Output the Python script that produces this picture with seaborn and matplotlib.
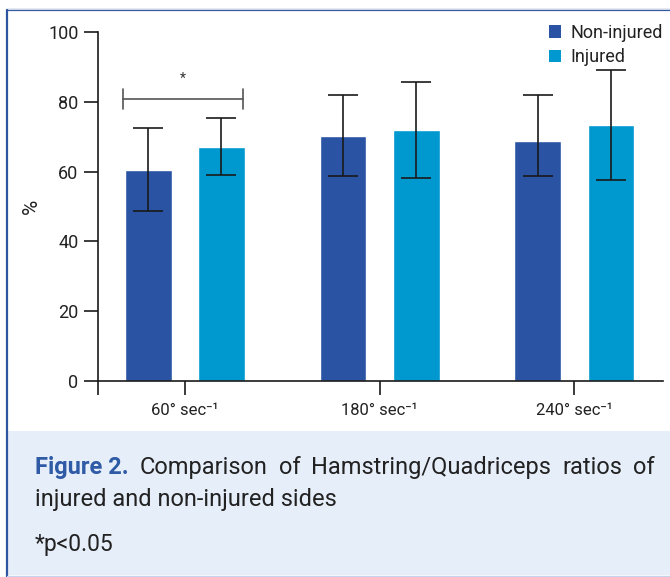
import numpy as np
import pandas as pd
import matplotlib
matplotlib.use("Agg")
import matplotlib.pyplot as plt
import seaborn as sns
from matplotlib.patches import Rectangle, Patch
from matplotlib.lines import Line2D

# data
speeds = ["60° sec⁻¹", "180° sec⁻¹", "240° sec⁻¹"]
groups = ["Non-injured", "Injured"]
non_injured = [60.4, 70.1, 68.7]
injured = [67.0, 71.9, 73.3]
non_injured_low = [48.8, 58.7, 58.7]
non_injured_high = [72.5, 82.0, 82.0]
injured_low = [58.9, 58.2, 57.5]
injured_high = [75.4, 85.6, 89.0]
yticks = [0, 20, 40, 60, 80, 100]

colors = {"Non-injured": "#2A54A3", "Injured": "#0099CF"}


def build_frame():
    rows = []
    for i, s in enumerate(speeds):
        rows.append({"speed": s, "side": "Non-injured", "value": non_injured[i],
                     "low": non_injured_low[i], "high": non_injured_high[i]})
        rows.append({"speed": s, "side": "Injured", "value": injured[i],
                     "low": injured_low[i], "high": injured_high[i]})
    return pd.DataFrame(rows)


def justified_line(fig, words, x_left, x_right, y, size):
    """Place words so the line fills x_left..x_right (pixels)."""
    r = fig.canvas.get_renderer()
    texts = []
    for w, bold, col in words:
        t = fig.text(0, y, w, fontsize=size, fontweight="bold" if bold else "normal",
                     color=col, va="baseline")
        texts.append(t)
    widths = [t.get_window_extent(r).width for t in texts]
    gap = (x_right - x_left - sum(widths)) / (len(texts) - 1)
    x = x_left
    for t, w in zip(texts, widths):
        t.set_x(x / fig.bbox.width)
        x += w + gap


def main():
    sns.set_style("white")
    plt.rcParams["font.family"] = ["Roboto", "DejaVu Sans"]

    df = build_frame()
    fig = plt.figure(figsize=(6.7, 5.77), dpi=100)
    ax = fig.add_axes([98 / 670, 1 - 381 / 577, (663 - 98) / 670, (381 - 32) / 577])

    sns.barplot(data=df, x="speed", y="value", hue="side", hue_order=groups,
                palette=colors, width=0.75, gap=0.36, errorbar=None,
                saturation=1, ax=ax, legend=False)

    # error bars from the listed bounds, at the bar centres
    for cont, side in zip(ax.containers, groups):
        sub = df[df["side"] == side]
        xs = [p.get_x() + p.get_width() / 2 for p in cont.patches]
        vals = sub["value"].to_numpy()
        err = np.vstack([vals - sub["low"].to_numpy(), sub["high"].to_numpy() - vals])
        ax.errorbar(xs, vals, yerr=err, fmt="none", ecolor="#1a1a1a",
                    elinewidth=1.2, capsize=10.5, capthick=1.2, zorder=3)

    # significance bracket over the first group
    c0 = ax.containers[0].patches[0]
    c1 = ax.containers[1].patches[0]
    xa = c0.get_x() - 0.01
    xb = c1.get_x() + c1.get_width() - 0.01
    ax.plot([xa, xb], [80.8, 80.8], color="#555555", lw=1.2)
    ax.plot([xa, xa], [77.8, 83.8], color="#555555", lw=1.2)
    ax.plot([xb, xb], [77.8, 83.8], color="#555555", lw=1.2)
    ax.text((xa + xb) / 2, 84.5, "*", ha="center", va="bottom", fontsize=10, color="#333333")

    ax.set_xlim(-0.446, 2.455)
    ax.set_ylim(0, 100)
    ax.set_yticks(yticks)
    ax.set_xticks(range(len(speeds)))
    ax.set_xticklabels(speeds)
    ax.set_xticks([-0.446], minor=True)
    ax.set_xlabel("")
    ax.set_ylabel("%", fontsize=15, color="#222222", labelpad=5)
    sns.despine(ax=ax)
    for sp in ["left", "bottom"]:
        ax.spines[sp].set_color("#1a1a1a")
        ax.spines[sp].set_linewidth(1.2)
    ax.tick_params(axis="both", which="both", length=10, width=1.2, color="#1a1a1a",
                   labelsize=13, labelcolor="#222222", direction="out",
                   bottom=True, left=True)
    ax.tick_params(axis="x", labelsize=12, pad=6)
    ax.tick_params(axis="y", pad=4)

    handles = [Patch(facecolor=colors[g], edgecolor="none", label=g) for g in groups]
    ax.legend(handles=handles, loc="upper right", bbox_to_anchor=(1.028, 1.07),
              frameon=False, fontsize=13, handlelength=0.7, handleheight=0.7,
              handletextpad=0.5, labelspacing=0.35, labelcolor="#222222")

    # page frame and caption box
    fig.patches.append(Rectangle((8 / 670, 2 / 577), 1, (574 - 430) / 577,
                                 transform=fig.transFigure, facecolor="#E6EEF9",
                                 edgecolor="none", zorder=0))
    fig.add_artist(Line2D([7 / 670, 1], [1 - 10 / 577] * 2, transform=fig.transFigure,
                          color="#2E55A0", lw=1.6))
    fig.add_artist(Line2D([7 / 670, 1], [1 - 8.5 / 577] * 2, transform=fig.transFigure,
                          color="#C9D3E3", lw=0.8))
    fig.add_artist(Line2D([7 / 670] * 2, [0, 1 - 10 / 577], transform=fig.transFigure,
                          color="#2E55A0", lw=1.6))
    fig.add_artist(Line2D([7 / 670, 1], [1.5 / 577] * 2, transform=fig.transFigure,
                          color="#C5D4EC", lw=1.0))

    fig.canvas.draw()
    ink = "#222222"
    line1 = [("Figure 2.", True, "#2E5AA6"), ("Comparison", False, ink), ("of", False, ink),
             ("Hamstring/Quadriceps", False, ink), ("ratios", False, ink), ("of", False, ink)]
    justified_line(fig, line1, 35, 655, 1 - 474 / 577, 17)
    fig.text(35 / 670, 1 - 506 / 577, "injured and non-injured sides", fontsize=17,
             color=ink, va="baseline")
    fig.text(35 / 670, 1 - 551 / 577, "*p<0.05", fontsize=16.5, color=ink,
             va="baseline")

    fig.savefig("out.png", dpi=100, facecolor="white")


if __name__ == "__main__":
    main()
